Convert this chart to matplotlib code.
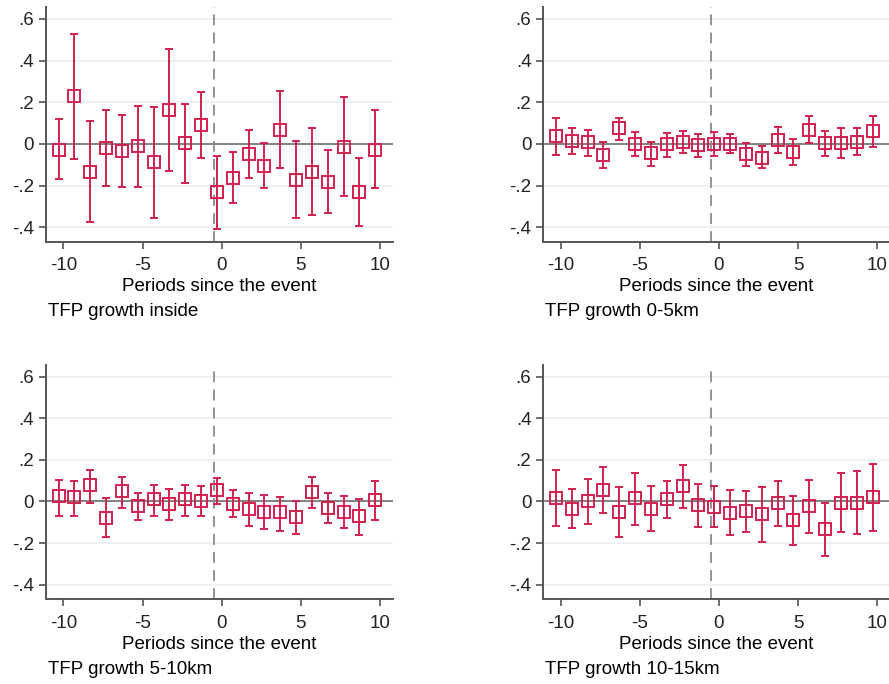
import numpy as np
import matplotlib.pyplot as plt

plt.rcParams['font.family'] = ['Liberation Sans', 'DejaVu Sans']
plt.rcParams['axes.unicode_minus'] = False

periods = np.arange(-10, 11)

titles = ["TFP growth inside", "TFP growth 0-5km", "TFP growth 5-10km", "TFP growth 10-15km"]

# point estimates
coef_inside = [-0.027, 0.228, -0.134, -0.019, -0.032, -0.011, -0.088, 0.165, 0.002, 0.089,
               -0.232, -0.163, -0.048, -0.104, 0.069, -0.173, -0.133, -0.181, -0.014, -0.232, -0.027]
coef_0_5 = [0.037, 0.016, 0.008, -0.051, 0.074, 0.0, -0.045, -0.002, 0.011, -0.006,
            -0.002, -0.002, -0.048, -0.066, 0.021, -0.038, 0.069, 0.002, 0.003, 0.011, 0.062]
coef_5_10 = [0.024, 0.021, 0.077, -0.079, 0.048, -0.022, 0.010, -0.014, 0.010, 0.003,
             0.053, -0.010, -0.035, -0.050, -0.051, -0.074, 0.045, -0.029, -0.050, -0.072, 0.006]
coef_10_15 = [0.019, -0.035, 0.0, 0.056, -0.051, 0.016, -0.035, 0.010, 0.072, -0.019,
              -0.027, -0.053, -0.048, -0.061, -0.006, -0.089, -0.021, -0.132, -0.005, -0.005, 0.021]

# upper and lower confidence bounds
hi_inside = [0.12, 0.53, 0.112, 0.165, 0.14, 0.184, 0.179, 0.458, 0.193, 0.249,
             -0.058, -0.04, 0.069, 0.003, 0.252, 0.014, 0.077, -0.03, 0.224, -0.067, 0.161]
lo_inside = [-0.171, -0.072, -0.375, -0.2, -0.206, -0.206, -0.356, -0.128, -0.189, -0.07,
             -0.41, -0.286, -0.166, -0.214, -0.118, -0.358, -0.34, -0.332, -0.248, -0.396, -0.214]
hi_0_5 = [0.123, 0.077, 0.069, 0.008, 0.123, 0.059, 0.010, 0.051, 0.061, 0.048,
          0.056, 0.048, 0.006, -0.011, 0.083, 0.022, 0.133, 0.064, 0.078, 0.077, 0.133]
lo_0_5 = [-0.054, -0.05, -0.058, -0.114, 0.019, -0.058, -0.106, -0.061, -0.042, -0.061,
          -0.058, -0.046, -0.106, -0.118, -0.045, -0.1, 0.003, -0.058, -0.07, -0.054, -0.013]
hi_5_10 = [0.104, 0.098, 0.151, 0.018, 0.117, 0.042, 0.077, 0.059, 0.077, 0.072,
           0.112, 0.056, 0.043, 0.032, 0.021, 0.003, 0.116, 0.039, 0.026, 0.014, 0.096]
lo_5_10 = [-0.069, -0.069, -0.006, -0.17, -0.029, -0.09, -0.069, -0.091, -0.069, -0.069,
           -0.013, -0.074, -0.12, -0.132, -0.14, -0.157, -0.03, -0.104, -0.127, -0.159, -0.091]
hi_10_15 = [0.151, 0.059, 0.11, 0.164, 0.07, 0.139, 0.072, 0.099, 0.175, 0.086,
            0.072, 0.056, 0.048, 0.068, 0.097, 0.025, 0.105, -0.005, 0.139, 0.148, 0.18]
lo_10_15 = [-0.116, -0.127, -0.108, -0.053, -0.172, -0.111, -0.143, -0.081, -0.032, -0.121,
            -0.124, -0.161, -0.148, -0.193, -0.116, -0.207, -0.151, -0.26, -0.145, -0.156, -0.14]

coefs = [coef_inside, coef_0_5, coef_5_10, coef_10_15]
his = [hi_inside, hi_0_5, hi_5_10, hi_10_15]
los = [lo_inside, lo_0_5, lo_5_10, lo_10_15]

red = '#D2204E'
yticks = [-0.4, -0.2, 0, 0.2, 0.4, 0.6]
ytick_labels = ['-.4', '-.2', '0', '.2', '.4', '.6']

fig = plt.figure(figsize=(8.89, 6.84), dpi=100)
positions = [[0.0517, 0.6466, 0.390, 0.343], [0.6111, 0.6466, 0.390, 0.343],
             [0.0517, 0.1238, 0.390, 0.343], [0.6111, 0.1238, 0.390, 0.343]]

for pos, title, c, hi, lo in zip(positions, titles, coefs, his, los):
    ax = fig.add_axes(pos)
    c = np.array(c)
    x = periods - 0.3
    yerr = [c - np.array(lo), np.array(hi) - c]
    for t in yticks:
        if t != 0:
            ax.axhline(t, color='#E8F0F2', lw=1.2, zorder=0)
    ax.axhline(0, color='#777777', lw=1.3, zorder=1)
    ax.axvline(-0.5, color='#8A8A8A', lw=1.3, ls=(0, (6, 4)), zorder=1)
    ax.errorbar(x, c, yerr=yerr, fmt='s', mfc='none', mec=red, ms=8, mew=1.4,
                ecolor=red, elinewidth=1.4, capsize=3, capthick=1.4, zorder=3)
    ax.set_xlim(-11.1, 10.8)
    ax.set_ylim(-0.47, 0.657)
    ax.set_xticks([-10, -5, 0, 5, 10])
    ax.set_yticks(yticks)
    ax.set_yticklabels(ytick_labels)
    ax.tick_params(labelsize=13.5, colors='#222222', length=5, width=1.2)
    ax.tick_params(axis='both', color='#555555')
    ax.tick_params(axis='x', pad=6)
    for s in ['top', 'right']:
        ax.spines[s].set_visible(False)
    for s in ['left', 'bottom']:
        ax.spines[s].set_color('#555555')
        ax.spines[s].set_linewidth(1.4)
    ax.set_xlabel('Periods since the event', fontsize=13.5, labelpad=3)
    ax.text(0.005, -0.297, title, transform=ax.transAxes, fontsize=13.5,
            ha='left', va='center')

fig.savefig('out.png', dpi=100)
